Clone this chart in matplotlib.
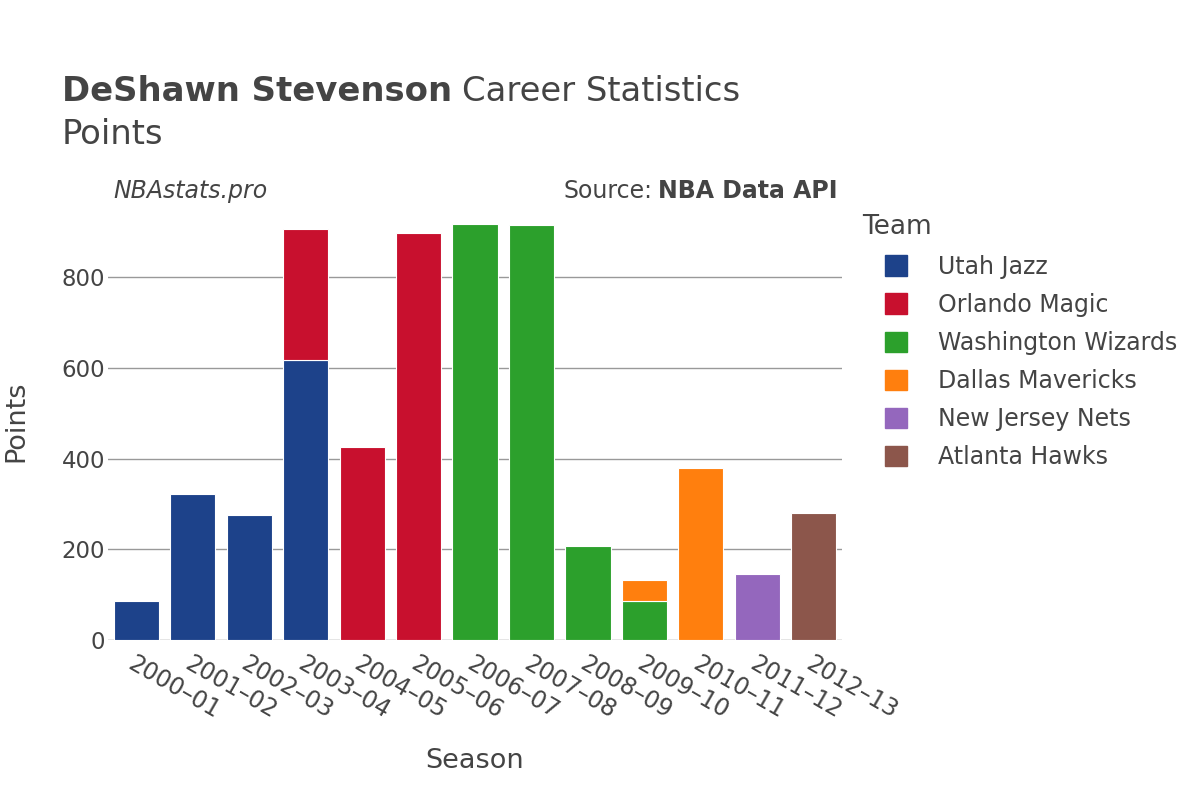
import numpy as np
import matplotlib
matplotlib.use("Agg")
import matplotlib.pyplot as plt
from matplotlib.patches import Patch

seasons = ["2000–01", "2001–02", "2002–03", "2003–04", "2004–05", "2005–06", "2006–07",
           "2007–08", "2008–09", "2009–10", "2010–11", "2011–12", "2012–13"]

teams = ["Utah Jazz", "Orlando Magic", "Washington Wizards", "Dallas Mavericks",
         "New Jersey Nets", "Atlanta Hawks"]
colors = ["#1d428a", "#c8102e", "#2ca02c", "#ff7f0e", "#9467bd", "#8c564b"]

# points per season for each team (0 = did not play for that team)
utah = [87, 322, 276, 617, 0, 0, 0, 0, 0, 0, 0, 0, 0]
orlando = [0, 0, 0, 290, 427, 898, 0, 0, 0, 0, 0, 0, 0]
washington = [0, 0, 0, 0, 0, 0, 918, 915, 208, 86, 0, 0, 0]
dallas = [0, 0, 0, 0, 0, 0, 0, 0, 0, 47, 380, 0, 0]
new_jersey = [0, 0, 0, 0, 0, 0, 0, 0, 0, 0, 0, 145, 0]
atlanta = [0, 0, 0, 0, 0, 0, 0, 0, 0, 0, 0, 0, 281]

series = [utah, orlando, washington, dallas, new_jersey, atlanta]

txt = "#444444"
plt.rcParams["font.family"] = "DejaVu Sans"

fig = plt.figure(figsize=(12, 8), dpi=100)
ax = fig.add_axes([0.09, 0.2, 0.6117, 0.546])

x = np.arange(len(seasons))
bottom = np.zeros(len(seasons))
for vals, col in zip(series, colors):
    vals = np.array(vals, dtype=float)
    idx = vals > 0
    ax.bar(x[idx], vals[idx], bottom=bottom[idx], width=0.8, color=col,
           edgecolor="white", linewidth=0.8, zorder=3)
    bottom += vals

ax.set_xlim(-0.5, len(seasons) - 0.5)
ax.set_ylim(0, bottom.max() * 1.05)
ax.set_yticks([0, 200, 400, 600, 800])
ax.grid(axis="y", color="#999999", linewidth=1, zorder=0)
ax.axhline(0, color="#e5e5e5", linewidth=2, zorder=2)
for s in ax.spines.values():
    s.set_visible(False)
ax.tick_params(axis="both", length=0, labelsize=16.5, labelcolor=txt)
ax.tick_params(axis="y", pad=2)
ax.set_xticks(x)
ax.set_xticklabels(seasons, rotation=-30, ha="left", va="top", rotation_mode="anchor",
                   fontsize=17)
ax.tick_params(axis="x", pad=8)

ax.set_xlabel("Season", fontsize=19.5, color=txt, labelpad=18)
ax.set_ylabel("Points", fontsize=19.5, color=txt, labelpad=23)

# title: bold name + regular rest
t1 = fig.text(62 / 1200, 1 - 101 / 800, "DeShawn Stevenson", fontsize=24.4, fontweight="bold",
              color=txt, va="baseline", ha="left")
fig.canvas.draw()
r = fig.canvas.get_renderer()
bb = t1.get_window_extent(renderer=r)
fig.text(bb.x1 / 1200 + 10 / 1200, 1 - 101 / 800, "Career Statistics", fontsize=24.4,
         color=txt, va="baseline", ha="left")
fig.text(62 / 1200, 1 - 144 / 800, "Points", fontsize=24.4, color=txt, va="baseline", ha="left")

fig.text(113 / 1200, 1 - 191 / 800, "NBAstats.pro", fontsize=17, style="italic",
         color=txt, va="center", ha="left")
s2 = fig.text(838 / 1200, 1 - 191 / 800, "NBA Data API", fontsize=17, fontweight="bold",
              color=txt, va="center", ha="right")
fig.canvas.draw()
bb2 = s2.get_window_extent(renderer=r)
fig.text(bb2.x0 / 1200 - 6 / 1200, 1 - 191 / 800, "Source:", fontsize=17,
         color=txt, va="center", ha="right")

# legend
fig.text(862 / 1200, 1 - 227 / 800, "Team", fontsize=19, color=txt, va="center", ha="left")
handles = [Patch(facecolor=c, edgecolor=c, label=t) for t, c in zip(teams, colors)]
leg = fig.legend(handles=handles, loc="upper left", bbox_to_anchor=(868 / 1200, 1 - 238 / 800),
                 frameon=False, fontsize=17,
                 handlelength=0.95, handleheight=0.95, handletextpad=1.3,
                 labelspacing=0.6, borderpad=0.2)
for t in leg.get_texts():
    t.set_color(txt)

fig.savefig("out.png", dpi=100, facecolor="white")
